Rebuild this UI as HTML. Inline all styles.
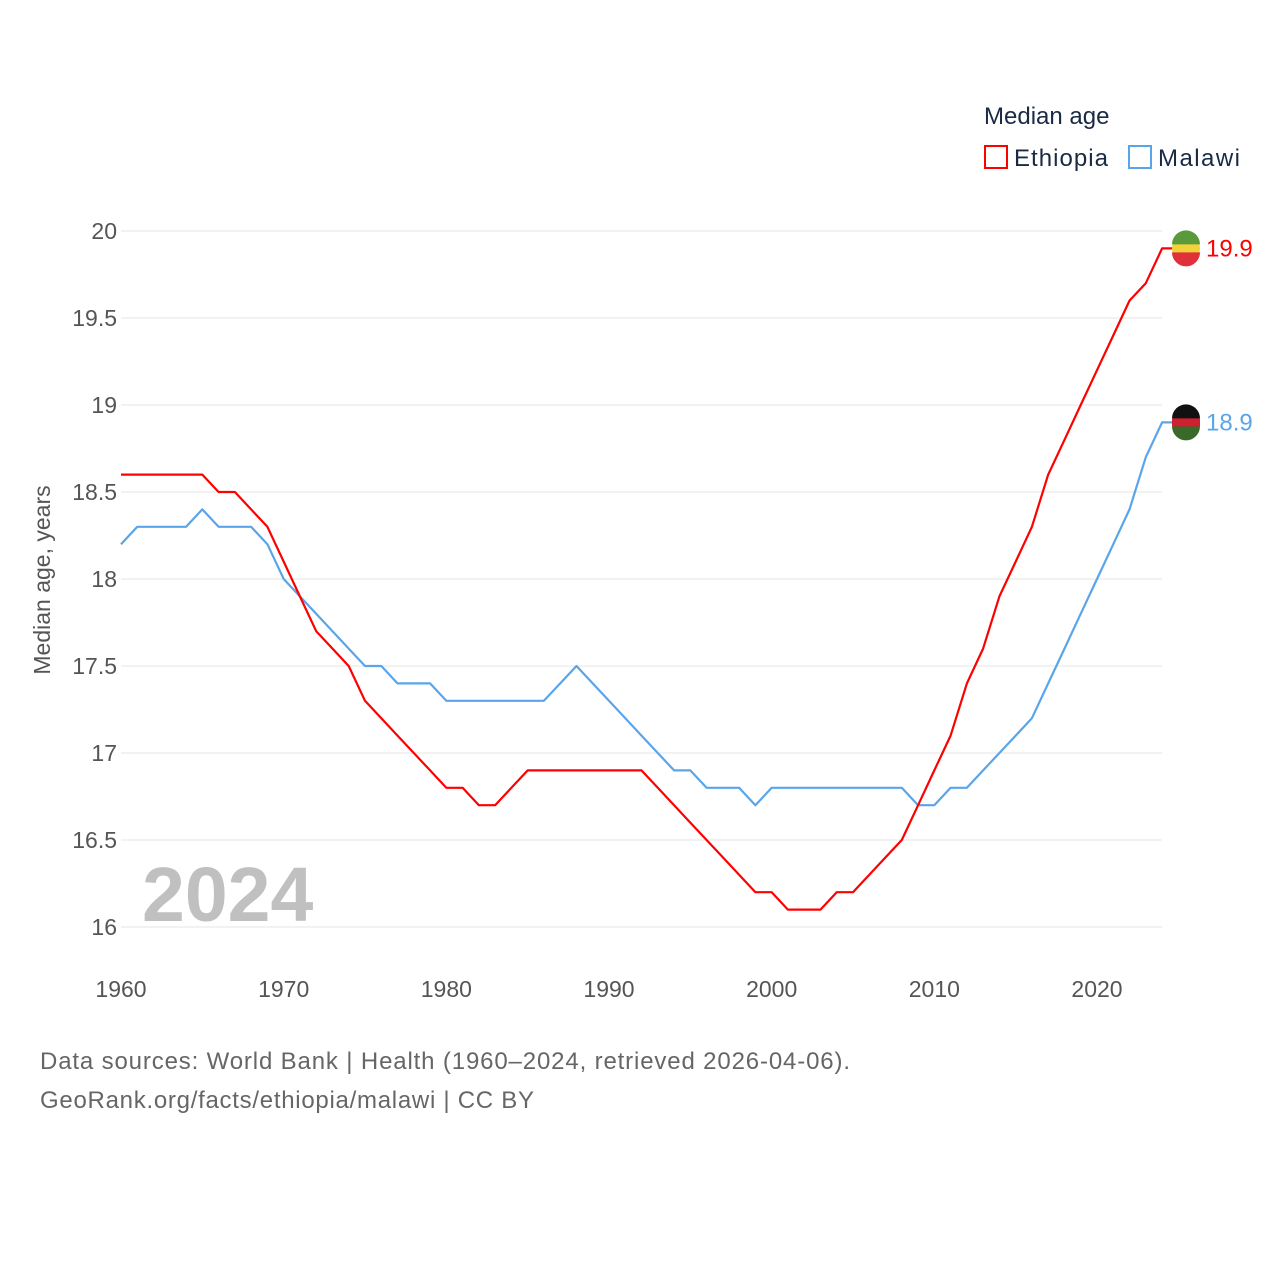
<!DOCTYPE html>
<html><head><meta charset="utf-8"><style>
body{margin:0;background:#fff;font-family:"Liberation Sans",sans-serif;}
svg text{font-family:"Liberation Sans",sans-serif;}
</style></head><body>
<svg id="chart" width="1280" height="1280" xmlns="http://www.w3.org/2000/svg">
<g id="grid"></g>
<g id="yticks"></g>
<g id="xticks"></g>
<text transform="translate(50,580) rotate(-90)" text-anchor="middle" font-size="23" fill="#555">Median age, years</text>
<text x="142" y="921" font-size="77" font-weight="bold" fill="#c0c0c0">2024</text>
<g id="series"></g>
<text x="984" y="124" font-size="24" fill="#1a2a44">Median age</text>
<rect x="985" y="146" width="22" height="22" fill="none" stroke="#f00" stroke-width="2"/>
<text x="1014" y="166" font-size="24" fill="#1a2a44" textLength="94">Ethiopia</text>
<rect x="1129" y="146" width="22" height="22" fill="none" stroke="#5aa5ea" stroke-width="2"/>
<text x="1158" y="166" font-size="24" fill="#1a2a44" textLength="82">Malawi</text>
<text x="40" y="1069" font-size="24" fill="#666" textLength="810">Data sources: World Bank | Health (1960–2024, retrieved 2026-04-06).</text>
<text x="40" y="1108" font-size="24" fill="#666" textLength="494">GeoRank.org/facts/ethiopia/malawi | CC BY</text>
</svg>
<script>
const years=[];for(let y=1960;y<=2024;y++)years.push(y);
const ethiopia=[18.6,18.6,18.6,18.6,18.6,18.6,18.5,18.5,18.4,18.3,18.1,17.9,17.7,17.6,17.5,17.3,17.2,17.1,17.0,16.9,16.8,16.8,16.7,16.7,16.8,16.9,16.9,16.9,16.9,16.9,16.9,16.9,16.9,16.8,16.7,16.6,16.5,16.4,16.3,16.2,16.2,16.1,16.1,16.1,16.2,16.2,16.3,16.4,16.5,16.7,16.9,17.1,17.4,17.6,17.9,18.1,18.3,18.6,18.8,19.0,19.2,19.4,19.6,19.7,19.9];
const malawi=[18.2,18.3,18.3,18.3,18.3,18.4,18.3,18.3,18.3,18.2,18.0,17.9,17.8,17.7,17.6,17.5,17.5,17.4,17.4,17.4,17.3,17.3,17.3,17.3,17.3,17.3,17.3,17.4,17.5,17.4,17.3,17.2,17.1,17.0,16.9,16.9,16.8,16.8,16.8,16.7,16.8,16.8,16.8,16.8,16.8,16.8,16.8,16.8,16.8,16.7,16.7,16.8,16.8,16.9,17.0,17.1,17.2,17.4,17.6,17.8,18.0,18.2,18.4,18.7,18.9];
const yTicks=[16,16.5,17,17.5,18,18.5,19,19.5,20];
const yTickLabels=["16","16.5","17","17.5","18","18.5","19","19.5","20"];
const xTicks=[1960,1970,1980,1990,2000,2010,2020];
const NS="http://www.w3.org/2000/svg";
const xs=y=>121+(y-1960)*(1097-121)/60;
const ys=v=>927-(v-16)*174;
function mk(t,a,p){const e=document.createElementNS(NS,t);for(const k in a)e.setAttribute(k,a[k]);p.appendChild(e);return e;}
const grid=document.getElementById('grid'),yt=document.getElementById('yticks'),xt=document.getElementById('xticks'),ser=document.getElementById('series');
yTicks.forEach((v,i)=>{
 const l=mk('line',{x1:121,x2:1162,y1:ys(v),y2:ys(v),stroke:'#e6e6e6','stroke-width':1},grid);
 
 
 const t=mk('text',{x:117,y:ys(v)+8,'text-anchor':'end','font-size':23,fill:'#555'},yt);
 t.textContent=yTickLabels[i];
 
 
});
xTicks.forEach(v=>{
 const t=mk('text',{x:xs(v),y:997,'text-anchor':'middle','font-size':23,fill:'#555'},xt);
 t.textContent=v;
 
 
});
function line(vals,color,name){
 const last=vals[vals.length-1],ly=ys(last);
 const d=vals.map((v,i)=>(i?'L':'M')+xs(years[i]).toFixed(1)+','+ys(v).toFixed(1)).join('')+'L1174,'+ly.toFixed(1);
 const p=mk('path',{d:d,fill:'none',stroke:color,'stroke-width':2.2,'stroke-linejoin':'round'},ser);
 
 
 const c=mk('circle',{cx:1186,cy:ly,r:14,fill:name==='ethiopia'?'#f2d23a':'#222'},ser);
 
 
 mk('path',{d:`M1172,${ly-4}A14,14 0 0 1 1200,${ly-4}Z`,fill:name==='ethiopia'?'#5a9a3a':'#111'},ser);
 mk('path',{d:`M1172,${ly+4}A14,14 0 0 0 1200,${ly+4}Z`,fill:name==='ethiopia'?'#e0303a':'#3a6a2a'},ser);
 if(name==='malawi')mk('rect',{x:1172,y:ly-4,width:28,height:8,fill:'#d02030'},ser);
 const t=mk('text',{x:1206,y:ly+8,'font-size':24,fill:color},ser);
 t.textContent=last.toFixed(1);
 
 
}
line(malawi,'#5aa5ea','malawi');
line(ethiopia,'#f00','ethiopia');
</script>
</body></html>
